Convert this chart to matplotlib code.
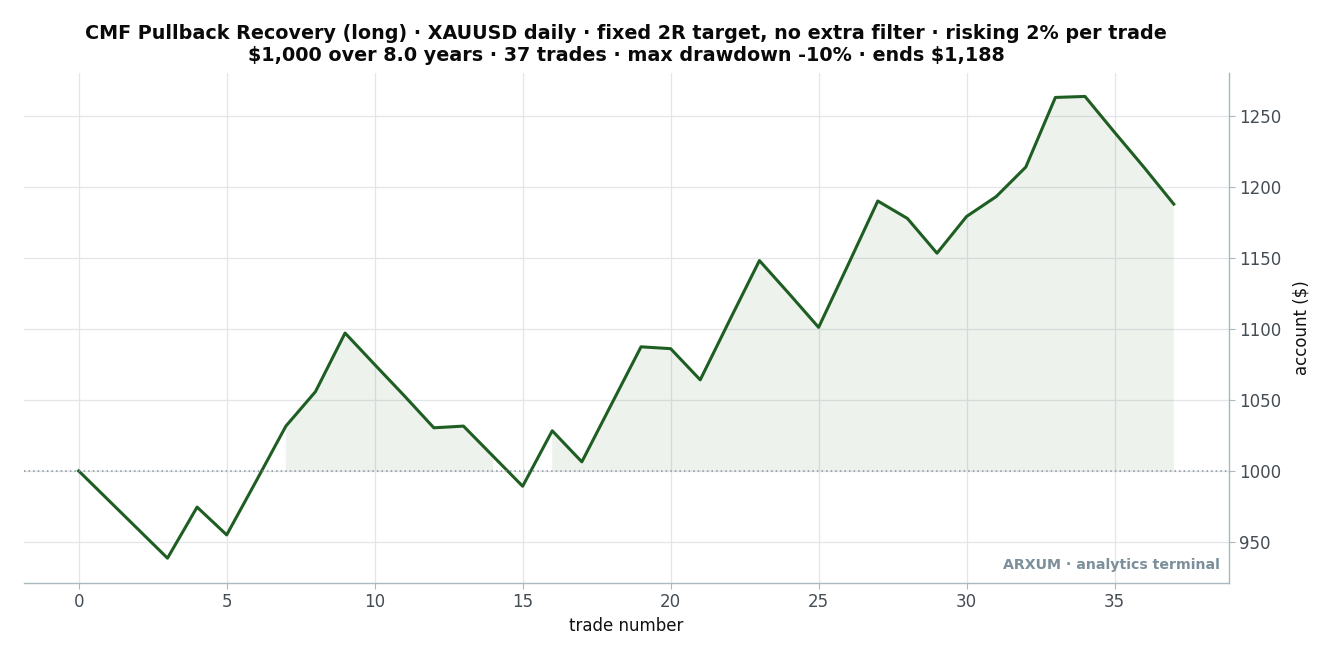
import numpy as np
import matplotlib
matplotlib.use("Agg")
import matplotlib.pyplot as plt

plt.rcParams["text.parse_math"] = False
plt.rcParams["font.family"] = ["DejaVu Sans"]

# account balance after each trade
trades = np.arange(38)
balance = [1000.0, 979.5, 959.0, 938.5, 974.5, 954.9, 993.0, 1031.6, 1055.9, 1097.2,
           1075.0, 1053.0, 1030.4, 1031.6, 1010.4, 989.2, 1028.3, 1006.4, 1047.0, 1087.5,
           1086.2, 1064.2, 1106.5, 1148.3, 1125.0, 1101.2, 1145.5, 1190.3, 1178.0, 1153.5,
           1179.4, 1193.4, 1214.2, 1263.3, 1264.0, 1238.7, 1213.9, 1188.1]
start = 1000

title = ("CMF Pullback Recovery (long) \u00b7 XAUUSD daily \u00b7 fixed 2R target, no extra filter \u00b7 risking 2% per trade\n"
         "$1,000 over 8.0 years \u00b7 37 trades \u00b7 max drawdown -10% \u00b7 ends $1,188")

line_col = "#1f5e22"
spine_col = "#a8b8bc"
text_col = "#444c54"

fig = plt.figure(figsize=(13.31, 6.58), dpi=100)
ax = fig.add_axes([0.018, 0.114, 0.905, 0.775])

bal = np.array(balance)
ax.fill_between(trades, bal, start, where=bal > start, color=line_col, alpha=0.08, linewidth=0)
ax.plot(trades, bal, color=line_col, linewidth=2.2)
ax.axhline(start, color="#8a959c", linestyle=(0, (1, 2)), linewidth=1.1)

ax.set_xlim(-1.85, 38.85)
ax.set_ylim(921.0, 1280.5)
ax.set_xticks(range(0, 36, 5))
ax.set_yticks(range(950, 1251, 50))

ax.yaxis.tick_right()
ax.yaxis.set_label_position("right")
ax.grid(True, color="#e3e6e8", linewidth=0.9)
ax.set_axisbelow(True)
for s in ["top", "left"]:
    ax.spines[s].set_visible(False)
for s in ["bottom", "right"]:
    ax.spines[s].set_color(spine_col)
    ax.spines[s].set_linewidth(1.0)
ax.tick_params(axis="both", colors=spine_col, labelcolor=text_col, labelsize=12, length=4)

ax.set_xlabel("trade number", fontsize=12, color="#111111", labelpad=4)
ax.set_ylabel("account ($)", fontsize=12, color="#111111", labelpad=8)
ax.set_title(title, fontsize=13.8, fontweight="bold", color="#0a0a0a", pad=8.5, linespacing=1.2)

ax.text(0.993, 0.022, "ARXUM \u00b7 analytics terminal", transform=ax.transAxes,
        ha="right", va="bottom", fontsize=10.2, fontweight="bold", color="#7c8f9a")

fig.savefig("out.png", dpi=100)
